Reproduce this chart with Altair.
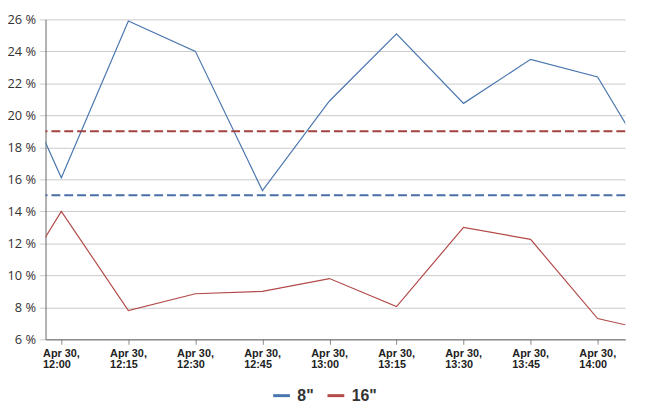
import altair as alt
import pandas as pd

times = ["2024-04-30T11:45:00Z", "2024-04-30T12:00:00Z", "2024-04-30T12:15:00Z",
         "2024-04-30T12:30:00Z", "2024-04-30T12:45:00Z", "2024-04-30T13:00:00Z",
         "2024-04-30T13:15:00Z", "2024-04-30T13:30:00Z", "2024-04-30T13:45:00Z",
         "2024-04-30T14:00:00Z", "2024-04-30T14:15:00Z"]
series_8 = [25.4, 16.1, 25.9, 24.0, 15.3, 20.9, 25.1, 20.75, 23.5, 22.4, 15.4]
series_16 = [7.2, 14.0, 7.8, 8.85, 9.0, 9.8, 8.05, 13.0, 12.25, 7.3, 6.35]
names = ['8"', '16"']
thresholds = [15.0, 19.0]
tick_hours = [(12, 0), (12, 15), (12, 30), (12, 45), (13, 0), (13, 15), (13, 30), (13, 45), (14, 0)]
y_ticks = [6, 8, 10, 12, 14, 16, 18, 20, 22, 24, 26]

rows = []
for t, v in zip(times, series_8):
    rows.append({"t": t, "v": v, "s": names[0]})
for t, v in zip(times, series_16):
    rows.append({"t": t, "v": v, "s": names[1]})
df = pd.DataFrame(rows)

def dt(h, m, s=0):
    return alt.DateTime(year=2024, month=4, date=30, hours=h, minutes=m, seconds=s, utc=True)

x_scale = alt.Scale(type="utc", domain=[dt(11, 56, 28), dt(14, 6, 11)])
y_scale = alt.Scale(domain=[6, 26], nice=False, zero=False)

y_axis = alt.Axis(values=y_ticks, labelExpr="datum.value + ' %'",
                  labelFont="Open Sans", labelFontSize=13, labelColor="#333",
                  labelPadding=4, ticks=True, tickSize=6, tickColor="#CACACA",
                  labelOverlap=False, domainColor="#666",
                  gridColor="#CACACA", gridWidth=1)

lines = alt.Chart(df).mark_line(strokeWidth=1.2, clip=True).encode(
    x=alt.X("t:T", scale=x_scale, title=None,
            axis=alt.Axis(values=[dt(h, m) for h, m in tick_hours],
                          labelExpr="[utcFormat(datum.value, '%b %d,'), utcFormat(datum.value, '%H:%M')]",
                          labelAlign="left", labelOffset=-19, labelFont="Liberation Sans",
                          labelFontSize=11, labelFontWeight="bold", labelColor="#222",
                          labelLineHeight=12, labelPadding=3, labelFlush=False,
                          labelOverlap=False,
                          domainColor="#666", tickColor="#888", tickSize=5,
                          grid=False)),
    y=alt.Y("v:Q", scale=y_scale, title=None, axis=y_axis),
    color=alt.Color("s:N", scale=alt.Scale(domain=names, range=["#4A76AE", "#B24A48"]),
                    legend=alt.Legend(title=None, orient="none", direction="horizontal",
                                      legendX=229, legendY=371, symbolType="stroke",
                                      symbolStrokeWidth=3, symbolSize=289,
                                      labelFont="Liberation Sans", labelFontSize=16,
                                      labelFontWeight="bold", labelColor="#333",
                                      labelOffset=6, columnPadding=7)),
)

thr_df = pd.DataFrame({"v": thresholds, "c": ["#4A6FA8", "#A34240"]})
rules = alt.Chart(thr_df).mark_rule(strokeWidth=2, strokeDash=[9, 4]).encode(
    y=alt.Y("v:Q", scale=y_scale, title=None, axis=y_axis),
    color=alt.Color("c:N", scale=None),
)

chart = alt.layer(lines, rules).properties(
    width=587, height=324,
    autosize=alt.AutoSizeParams(type="none"),
    padding={"left": 38, "top": 9, "right": 20, "bottom": 67},
    background="white",
).configure_view(stroke=None)

chart.save("out.html", embed_options={"renderer": "svg", "actions": False})
